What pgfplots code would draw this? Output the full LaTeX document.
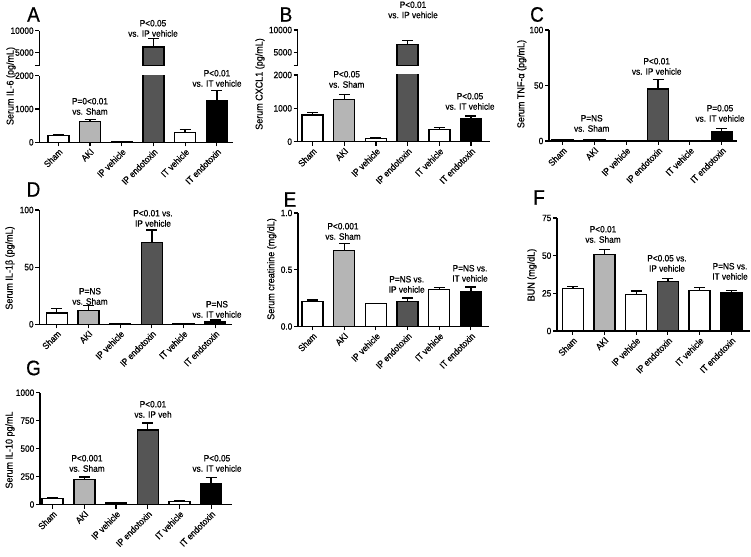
\documentclass[border=0pt]{standalone}
\usepackage{fontspec}
\setmainfont{Liberation Sans}[FakeStretch=0.9, FakeBold=0.6]
\usepackage{pgfplots}
\pgfplotsset{compat=1.18}
\definecolor{akigray}{HTML}{B5B5B5}
\definecolor{ipdark}{HTML}{555555}
\newcommand{\tfont}{\fontsize{9.2}{10}\selectfont}
\newcommand{\afont}{\fontsize{9.2}{10.3}\selectfont}
\newcommand{\lfont}{\fontsize{10}{11}\selectfont}
\newcommand{\pfont}{\fontsize{21}{21}\selectfont}
\pgfplotsset{
 barbase/.style={ybar, bar width=21pt, bar shift=0pt, draw=black, line width=1.4pt,
   error bars/y dir=plus, error bars/y explicit,
   error bars/error bar style={line width=1.4pt, draw=black},
   error bars/error mark options={rotate=90, draw=black, line width=1.4pt, mark size=5.5pt}},
 whitebar/.style={barbase, fill=white},
 akibar/.style={barbase, fill=akigray},
 ipbar/.style={barbase, fill=ipdark},
 itbar/.style={barbase, fill=black},
 panel/.style={
  scale only axis, anchor=south west,
  axis x line*=bottom, axis y line*=left,
  axis line style={-, line width=1.4pt},
  tick align=outside, major tick length=4pt,
  tick style={black, line width=1.1pt},
  xtick={0,1,2,3,4,5},
  xticklabels={Sham,AKI,IP vehicle,IP endotoxin,IT vehicle,IT endotoxin},
  xticklabel style={rotate=45, anchor=north east, font=\tfont, inner sep=1pt},
  yticklabel style={font=\tfont, inner sep=1.5pt},
  scaled y ticks=false,
  clip=true,
 },
}
% Panel A: IL-6
\newcommand{\plotA}{%
\addplot[whitebar] coordinates {(0,200) +- (0,40) (2,10) +- (0,5) (4,290) +- (0,100)};
\addplot[akibar] coordinates {(1,620) +- (0,70)};
\addplot[ipbar] coordinates {(3,6240) +- (0,1990)};
\addplot[itbar] coordinates {(5,1240) +- (0,320)};
}
\newcommand{\plotAup}{%
\addplot[ipbar] coordinates {(3,6240) +- (0,1990)};
}
% Panel B: CXCL1
\newcommand{\plotB}{%
\addplot[whitebar] coordinates {(0,800) +- (0,70) (2,100) +- (0,30) (4,370) +- (0,60)};
\addplot[akibar] coordinates {(1,1270) +- (0,140)};
\addplot[ipbar] coordinates {(3,6790) +- (0,810)};
\addplot[itbar] coordinates {(5,680) +- (0,90)};
}
\newcommand{\plotBup}{%
\addplot[ipbar] coordinates {(3,6790) +- (0,810)};
}
\begin{document}
\begin{tikzpicture}
\useasboundingbox (0pt,0pt) rectangle (751pt,556pt);
% ---------------- A ----------------
\begin{axis}[panel, at={(39.3pt,413.7pt)}, width=193.7pt, height=66.6pt,
  xmin=-0.6, xmax=5.51, ymin=0, ymax=2000, ytick={0,1000,2000}, yticklabels={0,1000,2000}]
\plotA
\end{axis}
\begin{axis}[panel, axis x line=none, xtick=\empty, at={(39.3pt,490.3pt)}, width=193.7pt, height=35pt,
  xmin=-0.6, xmax=5.51, ymin=2000, ymax=10000, ytick={2000,5000,10000}, yticklabels={,5000,10000}]
\plotAup
\end{axis}
% ---------------- B ----------------
\begin{axis}[panel, at={(297.7pt,414.3pt)}, width=192.3pt, height=66.7pt,
  xmin=-0.47, xmax=5.6, ymin=0, ymax=2000, ytick={0,1000,2000}, yticklabels={0,1000,2000}]
\plotB
\end{axis}
\begin{axis}[panel, axis x line=none, xtick=\empty, at={(297.7pt,490.3pt)}, width=192.3pt, height=35.7pt,
  xmin=-0.47, xmax=5.6, ymin=2000, ymax=10000, ytick={2000,5000,10000}, yticklabels={,5000,10000}]
\plotBup
\end{axis}
% ---------------- C ----------------
\begin{axis}[panel, at={(549pt,415pt)}, width=187.7pt, height=111pt,
  xmin=-0.43, xmax=5.47, ymin=0, ymax=100, ytick={0,50,100}, yticklabels={0,50,100}]
\addplot[whitebar] coordinates {(0,0.8) +- (0,0.3) (2,0.3) +- (0,0.1) (4,0) +- (0,0)};
\addplot[akibar] coordinates {(1,1.0) +- (0,0.3)};
\addplot[ipbar] coordinates {(3,47) +- (0,8.5)};
\addplot[itbar] coordinates {(5,8.4) +- (0,3)};
\end{axis}
% ---------------- D ----------------
\begin{axis}[panel, at={(39.3pt,231.7pt)}, width=193pt, height=114.3pt,
  xmin=-0.55, xmax=5.54, ymin=0, ymax=100, ytick={0,50,100}, yticklabels={0,50,100}]
\addplot[whitebar] coordinates {(0,10) +- (0,4) (2,0.3) +- (0,0) (4,0.2) +- (0,0)};
\addplot[akibar] coordinates {(1,12) +- (0,4.5)};
\addplot[ipbar] coordinates {(3,71.5) +- (0,11)};
\addplot[itbar] coordinates {(5,2.4) +- (0,1.4)};
\end{axis}
% ---------------- E ----------------
\begin{axis}[panel, at={(298pt,229.5pt)}, width=191pt, height=113.5pt,
  xmin=-0.46, xmax=5.57, ymin=0, ymax=1, ytick={0,0.5,1}, yticklabels={0.0,0.5,1.0}]
\addplot[whitebar] coordinates {(0,0.22) +- (0,0.015) (2,0.20) +- (0,0.003) (4,0.325) +- (0,0.02)};
\addplot[akibar] coordinates {(1,0.67) +- (0,0.06)};
\addplot[ipbar] coordinates {(3,0.22) +- (0,0.03)};
\addplot[itbar] coordinates {(5,0.307) +- (0,0.04)};
\end{axis}
% ---------------- F ----------------
\begin{axis}[panel, at={(557pt,225pt)}, width=193pt, height=113pt,
  xmin=-0.5, xmax=5.59, ymin=0, ymax=75, ytick={0,25,50,75}, yticklabels={0,25,50,75}]
\addplot[whitebar] coordinates {(0,28.3) +- (0,1.1) (2,24.3) +- (0,2.2) (4,27) +- (0,1.7)};
\addplot[akibar] coordinates {(1,50.9) +- (0,3.3)};
\addplot[ipbar] coordinates {(3,33) +- (0,2)};
\addplot[itbar] coordinates {(5,25.7) +- (0,1.3)};
\end{axis}
% ---------------- G ----------------
\begin{axis}[panel, at={(40pt,51.5pt)}, width=192pt, height=111.8pt,
  xmin=-0.4, xmax=5.66, ymin=0, ymax=1000, ytick={0,250,500,750,1000}, yticklabels={0,250,500,750,1000}]
\addplot[whitebar] coordinates {(0,53) +- (0,9) (2,12) +- (0,8) (4,27) +- (0,9)};
\addplot[akibar] coordinates {(1,222) +- (0,24)};
\addplot[ipbar] coordinates {(3,665) +- (0,63)};
\addplot[itbar] coordinates {(5,183) +- (0,57)};
\end{axis}
% ---------------- panel letters ----------------
\node[font=\pfont] at (33.5pt,541.5pt) {A};
\node[font=\pfont] at (286pt,541.5pt) {B};
\node[font=\pfont] at (537pt,541.5pt) {C};
\node[font=\pfont] at (33.5pt,366.5pt) {D};
\node[font=\pfont] at (290pt,356.5pt) {E};
\node[font=\pfont] at (539pt,358.5pt) {F};
\node[font=\pfont] at (33.5pt,188pt) {G};
% ---------------- y labels ----------------
\node[font=\lfont, rotate=90] at (11pt,470pt) {Serum IL-6 (pg/mL)};
\node[font=\lfont, rotate=90] at (260pt,472pt) {Serum CXCL1 (pg/mL)};
\node[font=\lfont, rotate=90] at (521.7pt,472pt) {Serum TNF-α (pg/mL)};
\node[font=\lfont, rotate=90] at (10pt,288pt) {Serum IL-1β (pg/mL)};
\node[font=\lfont, rotate=90] at (271.7pt,287pt) {Serum creatinine (mg/dL)};
\node[font=\lfont, rotate=90] at (532pt,281pt) {BUN (mg/dL)};
\node[font=\lfont, rotate=90] at (10pt,106pt) {Serum IL-10 pg/mL};
% ---------------- annotations ----------------
\tikzset{ann/.style={font=\afont, align=center, anchor=south, inner sep=0pt}}
\node[ann] at (90pt,441pt) {P=0<0.01\\vs. Sham};
\node[ann] at (153pt,519pt) {P<0.05\\vs. IP vehicle};
\node[ann] at (217pt,469pt) {P<0.01\\vs. IT vehicle};
\node[ann] at (346.7pt,468pt) {P<0.05\\vs. Sham};
\node[ann] at (413pt,537.5pt) {P<0.01\\vs. IP vehicle};
\node[ann] at (470pt,446pt) {P<0.05\\vs. IT vehicle};
\node[ann] at (591.7pt,424pt) {P=NS\\vs. Sham};
\node[ann] at (656.7pt,481pt) {P<0.01\\vs. IP vehicle};
\node[ann] at (720pt,434pt) {P=0.05\\vs. IT vehicle};
\node[ann] at (90pt,251pt) {P=NS\\vs. Sham};
\node[ann] at (153pt,329pt) {P<0.01 vs.\\IP vehicle};
\node[ann] at (217pt,238pt) {P=NS\\vs. IT vehicle};
\node[ann] at (343pt,316pt) {P<0.001\\vs. Sham};
\node[ann] at (406.7pt,263pt) {P=NS vs.\\IP vehicle};
\node[ann] at (470pt,274pt) {P=NS vs.\\IT vehicle};
\node[ann] at (603pt,313pt) {P<0.01\\vs. Sham};
\node[ann] at (667pt,284pt) {P<0.05 vs.\\IP vehicle};
\node[ann] at (730pt,276pt) {P=NS vs.\\IT vehicle};
\node[ann] at (87pt,84pt) {P<0.001\\vs. Sham};
\node[ann] at (153pt,138pt) {P<0.01\\vs. IP veh};
\node[ann] at (217pt,84pt) {P<0.05\\vs. IT vehicle};
\end{tikzpicture}
\end{document}
